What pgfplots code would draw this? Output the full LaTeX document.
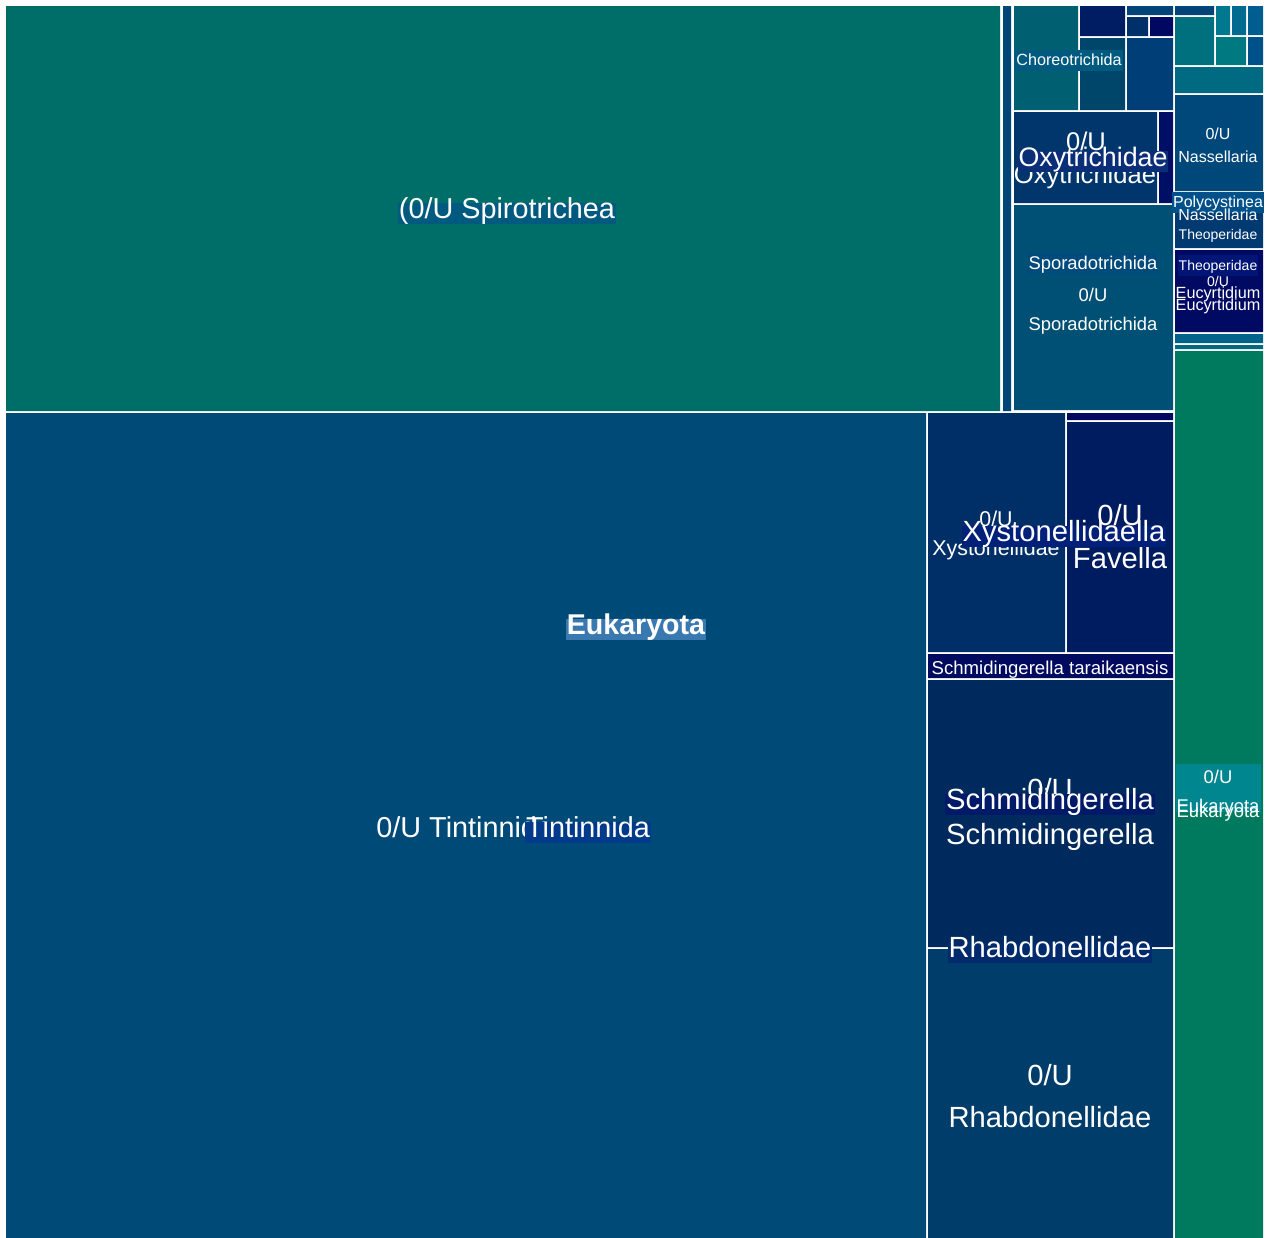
\documentclass[border=0pt]{standalone}
\usepackage{pgfplots}
\pgfplotsset{compat=1.18}
\usepackage{fontspec}
\setmainfont{Liberation Sans}

% tile colours
\definecolor{cSpiro}{HTML}{006E68}
\definecolor{cStrip}{HTML}{004578}
\definecolor{cTin}{HTML}{004A78}
\definecolor{cA}{HTML}{005F70}
\definecolor{cB}{HTML}{001C62}
\definecolor{cC}{HTML}{00466A}
\definecolor{cD}{HTML}{004478}
\definecolor{cE}{HTML}{00306A}
\definecolor{cF}{HTML}{000862}
\definecolor{cG}{HTML}{003E78}
\definecolor{cOxy}{HTML}{00366C}
\definecolor{cOxs}{HTML}{000F66}
\definecolor{cSpo}{HTML}{005075}
\definecolor{cR1}{HTML}{004478}
\definecolor{cR2}{HTML}{00707E}
\definecolor{cR3}{HTML}{007890}
\definecolor{cR4}{HTML}{006A90}
\definecolor{cR5}{HTML}{005D90}
\definecolor{cR6}{HTML}{007A80}
\definecolor{cR7}{HTML}{00508A}
\definecolor{cR8}{HTML}{006A82}
\definecolor{cNas}{HTML}{00487A}
\definecolor{cPol}{HTML}{003A70}
\definecolor{cTheo}{HTML}{000A62}
\definecolor{cR9}{HTML}{00648A}
\definecolor{cR10}{HTML}{006A80}
\definecolor{cEuk}{HTML}{007A5E}
\definecolor{cXys}{HTML}{002F68}
\definecolor{cFavT}{HTML}{000860}
\definecolor{cFav}{HTML}{001C60}
\definecolor{cTar}{HTML}{000A5E}
\definecolor{cSch}{HTML}{00295E}
\definecolor{cRha}{HTML}{003D6A}
% label boxes
\definecolor{bSpiro}{HTML}{005A80}
\definecolor{bEuk}{HTML}{3A78B0}
\definecolor{bTin}{HTML}{003A8A}
\definecolor{bOxy}{HTML}{0B2E78}
\definecolor{bPol}{HTML}{00508A}
\definecolor{bTheo}{HTML}{001575}
\definecolor{bSpo}{HTML}{004A7C}
\definecolor{bXys}{HTML}{00207A}
\definecolor{bSch}{HTML}{001A68}
\definecolor{bRha}{HTML}{002A6C}
\definecolor{bEukR}{HTML}{00868E}

% one tile: colour, x1, y1, x2, y2 (pixels, y downwards)
\newcommand{\tile}[5]{\addplot[draw=none,fill=#1] coordinates {(#2,#3) (#4,#3) (#4,#5) (#2,#5) (#2,#3)};}

\tikzset{
  lab/.style={text=white,inner sep=0pt,text height=0.75em,text depth=0.22em,
    font=\fontsize{#1}{#1}\selectfont,yshift=-0.16*#1},
  box/.style={fill=#1,inner xsep=0.5pt,inner ysep=0.4pt}
}

\begin{document}
\begin{tikzpicture}
\begin{axis}[width=632.5pt,height=619pt,scale only axis,hide axis,
  xmin=0,xmax=1265,ymin=0,ymax=1238,y dir=reverse,clip=false]
\tile{white}{0}{0}{1265}{1238}
% big tiles
\tile{cSpiro}{6}{6}{1000}{411}
\tile{cStrip}{1003}{6}{1011}{411}
\tile{cTin}{6}{413}{926}{1238}
% Choreotrichida
\tile{cA}{1014}{6}{1078}{110}
\tile{cB}{1080}{6}{1125}{36}
\tile{cC}{1080}{38}{1125}{110}
\tile{cD}{1127}{6}{1173}{15}
\tile{cE}{1127}{17}{1148}{36}
\tile{cF}{1150}{17}{1173}{36}
\tile{cG}{1127}{38}{1173}{110}
% Oxytrichidae, Sporadotrichida
\tile{cOxy}{1014}{112}{1157}{203}
\tile{cOxs}{1159}{112}{1173}{203}
\tile{cSpo}{1014}{205}{1173}{410}
% right column
\tile{cR1}{1175}{6}{1214}{15}
\tile{cR2}{1175}{17}{1214}{65}
\tile{cR3}{1216}{6}{1230}{35}
\tile{cR4}{1232}{6}{1246}{35}
\tile{cR5}{1248}{6}{1263}{35}
\tile{cR6}{1216}{37}{1246}{65}
\tile{cR7}{1248}{37}{1263}{65}
\tile{cR8}{1175}{67}{1263}{93}
\tile{cNas}{1175}{95}{1263}{191}
\tile{cPol}{1175}{193}{1263}{248}
\tile{cTheo}{1175}{250}{1263}{332}
\tile{cR9}{1175}{334}{1263}{343}
\tile{cR10}{1175}{345}{1263}{349}
\tile{cEuk}{1175}{351}{1263}{1238}
% Tintinnida detail
\tile{cXys}{928}{413}{1065}{652}
\tile{cFavT}{1067}{413}{1173}{420}
\tile{cFav}{1067}{422}{1173}{652}
\tile{cTar}{928}{654}{1173}{678}
\tile{cSch}{928}{680}{1173}{947}
\tile{cRha}{928}{949}{1173}{1238}

% labels
\node[lab=14.4pt,box=bSpiro] at (axis cs:507,209) {(0/U Spirotrichea};
\node[lab=14.3pt,box=bEuk,font=\fontsize{14.3pt}{14.3pt}\selectfont\bfseries] at (axis cs:636,625) {Eukaryota};
\node[lab=14.4pt,anchor=west] at (axis cs:376,828) {0/U Tintinnida};
\node[lab=14.4pt,box=bTin] at (axis cs:588,828) {Tintinnida};

\node[lab=8.1pt,box=bSpiro] at (axis cs:1069,58) {Choreotrichida};
\node[lab=12.8pt] at (axis cs:1086,141) {0/U};
\node[lab=12.8pt] at (axis cs:1085,174) {Oxytrichidae};
\node[lab=13.4pt,box=bOxy] at (axis cs:1093,157) {Oxytrichidae};

\node[lab=8pt] at (axis cs:1218,132) {0/U};
\node[lab=8pt] at (axis cs:1218,155) {Nassellaria};
\node[lab=8pt,box=bPol] at (axis cs:1218,200) {Polycystinea};
\node[lab=8pt] at (axis cs:1218,213) {Nassellaria};
\node[lab=7pt] at (axis cs:1218,232) {Theoperidae};
\node[lab=7pt,box=bTheo] at (axis cs:1218,263) {Theoperidae};
\node[lab=7pt] at (axis cs:1218,279) {0/U};
\node[lab=8.1pt] at (axis cs:1218,303) {Eucyrtidium};
\node[lab=8.1pt] at (axis cs:1218,291) {Eucyrtidium};

\node[lab=9.2pt,box=bSpo] at (axis cs:1093,261) {Sporadotrichida};
\node[lab=9.2pt] at (axis cs:1093,293) {0/U};
\node[lab=9.2pt] at (axis cs:1093,322) {Sporadotrichida};

\node[lab=10.7pt] at (axis cs:996,518) {0/U};
\node[lab=10.7pt] at (axis cs:996,547) {Xystonellidae};
\node[lab=14.6pt] at (axis cs:1120,516) {0/U};
\node[lab=14.6pt] at (axis cs:1120,559) {Favella};
\node[lab=14.6pt,box=bXys] at (axis cs:1064,532) {Xystonellidaella};

\node[lab=9.3pt] at (axis cs:1050,666) {Schmidingerella taraikaensis};

\node[lab=14.6pt] at (axis cs:1050,790) {0/U};
\node[lab=14.6pt,box=bSch] at (axis cs:1050,800) {Schmidingerella};
\node[lab=14.6pt] at (axis cs:1050,835) {Schmidingerella};
\node[lab=14.6pt,box=bRha] at (axis cs:1050,948) {Rhabdonellidae};
\node[lab=14.6pt] at (axis cs:1050,1076) {0/U};
\node[lab=14.6pt] at (axis cs:1050,1118) {Rhabdonellidae};

\node[fill=bEukR,inner sep=0pt,minimum width=42.5pt,minimum height=24pt] at (axis cs:1218.5,788) {};
\node[lab=9.2pt] at (axis cs:1218,775) {0/U};
\node[lab=9.2pt] at (axis cs:1218,809) {Eukaryota};
\node[lab=9.2pt] at (axis cs:1218,804) {Eukaryota};
\end{axis}
\end{tikzpicture}
\end{document}
